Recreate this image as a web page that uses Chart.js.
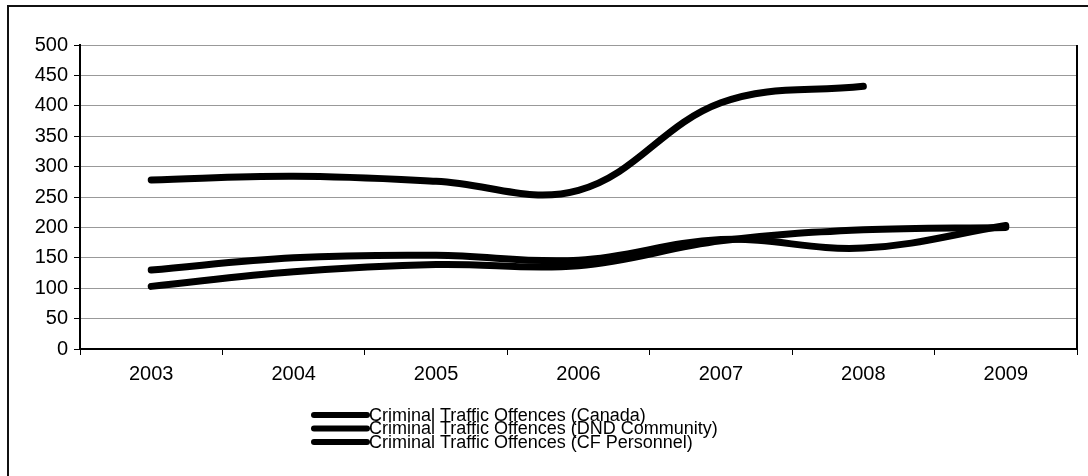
<!DOCTYPE html>
<html lang="en">
  <head>
    <meta charset="UTF-8" />
    <title>Criminal Traffic Offences</title>
    <script src="https://cdn.jsdelivr.net/npm/chart.js@4.4.1/dist/chart.umd.min.js"></script>
    <style>
      body {
        margin: 0;
        background: #fff;
      }
      .wrap {
        position: relative;
        width: 1088px;
        height: 476px;
        overflow: hidden;
      }
      .frame {
        position: absolute;
        left: 7px;
        top: 5px;
        width: 1100px;
        height: 500px;
        border: 2px solid #111;
      }
      canvas {
        position: absolute;
        left: 0;
        top: 0;
      }
    </style>
  </head>
  <body>
    <div class="wrap">
      <div class="frame"></div>
      <canvas id="myChart" width="1088" height="476"></canvas>
    </div>

    <script>
      // values
      const years = ["2003", "2004", "2005", "2006", "2007", "2008", "2009"];
      const canada = [278, 284, 276, 261, 405, 432, null];
      const dndCommunity = [130, 150, 154, 146, 180, 166, 203];
      const cfPersonnel = [103, 127, 139, 137, 178, 196, 200];
      const yTicks = [0, 50, 100, 150, 200, 250, 300, 350, 400, 450, 500];

      const labels = [
        "Criminal Traffic Offences (Canada)",
        "Criminal Traffic Offences (DND Community)",
        "Criminal Traffic Offences (CF Personnel)",
      ];

      function lineSet(label, data) {
        return {
          label: label,
          data: data,
          borderColor: "#000",
          backgroundColor: "#000",
          borderWidth: 7,
          borderCapStyle: "round",
          borderJoinStyle: "round",
          pointRadius: 0,
          tension: 0.38,
          spanGaps: false,
        };
      }

      // legend stacked under the plot, plus right border of plot area
      const extras = {
        id: "extras",
        afterDraw(chart) {
          const ctx = chart.ctx;
          const area = chart.chartArea;
          ctx.save();
          ctx.strokeStyle = "#000";
          ctx.lineWidth = 2;
          ctx.beginPath();
          ctx.moveTo(area.right, area.top);
          ctx.lineTo(area.right, area.bottom);
          ctx.stroke();

          ctx.font = '18px "Liberation Sans", Arial, sans-serif';
          ctx.textBaseline = "middle";
          ctx.fillStyle = "#000";
          chart.data.datasets.forEach((ds, i) => {
            const y = 415 + i * 13.5;
            ctx.lineWidth = 6;
            ctx.lineCap = "round";
            ctx.beginPath();
            ctx.moveTo(314, y);
            ctx.lineTo(367, y);
            ctx.stroke();
            ctx.fillText(ds.label, 369, y + 1);
          });
          ctx.restore();
        },
      };

      const ctx = document.getElementById("myChart").getContext("2d");
      const myChart = new Chart(ctx, {
        type: "line",
        data: {
          labels: years,
          datasets: [
            lineSet(labels[0], canada),
            lineSet(labels[1], dndCommunity),
            lineSet(labels[2], cfPersonnel),
          ],
        },
        options: {
          responsive: false,
          animation: false,
          layout: {
            padding: { left: 8, top: 45, right: 11, bottom: 0 },
          },
          scales: {
            x: {
              offset: true,
              afterFit(scale) {
                scale.height = 127;
              },
              grid: {
                offset: true,
                drawOnChartArea: false,
                tickLength: 6,
                tickColor: "#000",
              },
              border: { color: "#000", width: 2 },
              ticks: {
                color: "#000",
                padding: 7,
                font: { family: '"Liberation Sans", Arial, sans-serif', size: 20 },
              },
            },
            y: {
              min: 0,
              max: 500,
              afterFit(scale) {
                scale.width = 72;
              },
              afterBuildTicks(scale) {
                scale.ticks = yTicks.map((v) => ({ value: v }));
              },
              grid: {
                color: "#999",
                borderDash: [4, 3],
                tickLength: 6,
                tickColor: "#000",
                tickBorderDash: [],
              },
              border: { color: "#000", width: 2 },
              ticks: {
                color: "#000",
                padding: 6,
                font: { family: '"Liberation Sans", Arial, sans-serif', size: 20 },
              },
            },
          },
          plugins: {
            legend: { display: false },
            tooltip: { enabled: false },
          },
        },
        plugins: [extras],
      });
    </script>
  </body>
</html>
